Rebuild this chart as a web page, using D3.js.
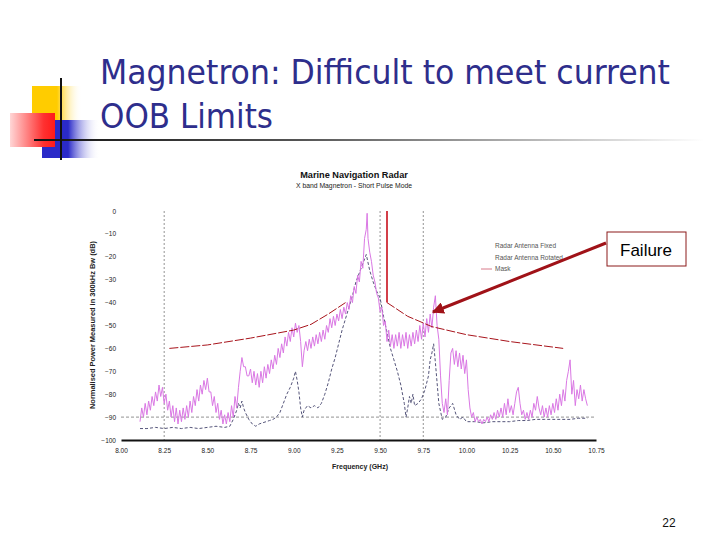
<!DOCTYPE html>
<html><head><meta charset="utf-8">
<script src="https://cdn.jsdelivr.net/npm/d3@7"></script>
<style>html,body{margin:0;padding:0;background:#fff;}svg{display:block;}</style>
</head><body>
<script>
const slideTitle = ["Magnetron: Difficult to meet current", "OOB Limits"];
const chartTitle = "Marine Navigation Radar";
const chartSubtitle = "X band Magnetron - Short Pulse Mode";
const xLabel = "Frequency (GHz)";
const yLabel = "Normalised Power Measured in 300kHz Bw (dB)";
const xTicks = [8.00, 8.25, 8.50, 8.75, 9.00, 9.25, 9.50, 9.75, 10.00, 10.25, 10.50, 10.75];
const yTicks = [0, -10, -20, -30, -40, -50, -60, -70, -80, -90, -100];
const refFreqs = [8.25, 9.50, 9.75];
const refLevel = -90;
const legendNames = ["Radar Antenna Fixed", "Radar Antenna Rotated", "Mask"];

const maskLeft = [[8.28,-60],[8.50,-58.5],[8.75,-55.5],[9.00,-52],[9.10,-49.5],[9.20,-45],[9.30,-40]];
const maskRight = [[9.54,0],[9.54,-40],[9.66,-46],[9.80,-50.5],[10.00,-54],[10.25,-57],[10.56,-60]];

const rotated = [[8.11,-92],[8.12,-86],[8.13,-90],[8.14,-84],[8.15,-89],[8.16,-83],[8.17,-87],[8.18,-81],[8.19,-85],[8.20,-79],
[8.21,-83],[8.22,-76],[8.23,-81],[8.24,-77],[8.25,-84],[8.26,-80],[8.27,-87],[8.28,-83],[8.29,-90],[8.30,-85],
[8.31,-92],[8.32,-86],[8.33,-93],[8.34,-87],[8.35,-92],[8.36,-86],[8.37,-91],[8.38,-85],[8.39,-90],[8.40,-83],
[8.41,-88],[8.42,-81],[8.43,-85],[8.44,-78],[8.45,-83],[8.46,-76],[8.47,-80],[8.48,-74],[8.49,-78],[8.50,-73],
[8.51,-79],[8.52,-79],[8.53,-85],[8.54,-81],[8.55,-88],[8.56,-84],[8.57,-91],[8.58,-87],[8.59,-93],[8.60,-89],
[8.61,-93],[8.62,-88],[8.63,-92],[8.64,-85],[8.65,-90],[8.66,-81],[8.67,-86],[8.68,-77],[8.69,-70],[8.70,-64],
[8.71,-68],[8.72,-68],[8.73,-72],[8.74,-72],[8.75,-69],[8.76,-75],[8.77,-70],[8.78,-76],[8.79,-71],[8.80,-77],
[8.81,-70],[8.82,-75],[8.83,-68],[8.84,-73],[8.85,-67],[8.86,-71],[8.87,-65],[8.88,-69],[8.89,-63],[8.90,-67],
[8.91,-60],[8.92,-64],[8.93,-58],[8.94,-62],[8.95,-55],[8.96,-59],[8.97,-53],[8.98,-57],[8.99,-51],[9.00,-55],
[9.01,-49],[9.02,-53],[9.03,-50],[9.04,-57],[9.05,-68],[9.06,-61],[9.07,-57],[9.08,-61],[9.09,-56],[9.10,-60],
[9.11,-55],[9.12,-59],[9.13,-54],[9.14,-58],[9.15,-53],[9.16,-57],[9.17,-52],[9.18,-56],[9.19,-50],[9.20,-53],
[9.21,-47],[9.22,-51],[9.23,-46],[9.24,-50],[9.25,-45],[9.26,-48],[9.27,-43],[9.28,-47],[9.29,-42],[9.30,-45],
[9.31,-40],[9.32,-43],[9.33,-37],[9.34,-40],[9.35,-33],[9.36,-36],[9.37,-28],[9.38,-31],[9.39,-22],[9.40,-25],
[9.41,-12],[9.42,-8],[9.425,-1],[9.43,-12],[9.44,-18],[9.45,-22],[9.46,-28],[9.47,-31],[9.48,-36],[9.49,-38],
[9.50,-44],[9.51,-42],[9.52,-50],[9.53,-48],[9.54,-57],[9.55,-52],[9.56,-59],[9.57,-54],[9.58,-60],[9.59,-54],
[9.60,-59],[9.61,-53],[9.62,-60],[9.63,-54],[9.64,-59],[9.65,-53],[9.66,-60],[9.67,-54],[9.68,-59],[9.69,-53],
[9.70,-58],[9.71,-52],[9.72,-57],[9.73,-50],[9.74,-56],[9.75,-49],[9.76,-55],[9.77,-47],[9.78,-53],[9.79,-45],
[9.80,-51],[9.81,-42],[9.82,-37],[9.83,-50],[9.84,-56],[9.85,-72],[9.86,-84],[9.87,-88],[9.88,-82],[9.89,-89],
[9.90,-74],[9.91,-62],[9.92,-60],[9.93,-67],[9.94,-61],[9.95,-68],[9.96,-62],[9.97,-69],[9.98,-63],[9.99,-71],
[10.00,-65],[10.01,-78],[10.02,-86],[10.03,-90],[10.04,-88],[10.05,-92],[10.06,-90],[10.07,-92],[10.08,-91],[10.09,-93],
[10.10,-91],[10.11,-92],[10.12,-90],[10.13,-92],[10.14,-89],[10.15,-91],[10.16,-88],[10.17,-91],[10.18,-87],[10.19,-90],
[10.20,-86],[10.21,-90],[10.22,-84],[10.23,-89],[10.24,-82],[10.25,-88],[10.26,-85],[10.27,-89],[10.28,-84],[10.29,-79],
[10.30,-77],[10.31,-84],[10.32,-89],[10.33,-87],[10.34,-91],[10.35,-88],[10.36,-91],[10.37,-87],[10.38,-90],[10.39,-84],
[10.40,-87],[10.41,-81],[10.42,-86],[10.43,-89],[10.44,-85],[10.45,-90],[10.46,-86],[10.47,-90],[10.48,-85],[10.49,-89],
[10.50,-84],[10.51,-88],[10.52,-82],[10.53,-87],[10.54,-80],[10.55,-85],[10.56,-78],[10.57,-83],[10.58,-74],[10.59,-70],
[10.60,-65],[10.61,-80],[10.62,-74],[10.63,-85],[10.64,-78],[10.65,-82],[10.66,-76],[10.67,-83],[10.68,-78],[10.69,-82],[10.70,-85]];

const fixed = [[8.11,-95],[8.15,-95],[8.20,-94.5],[8.25,-95],[8.30,-94.5],[8.35,-95],[8.40,-94.5],[8.45,-95],[8.50,-94.5],
[8.55,-94],[8.60,-94.5],[8.63,-94],[8.65,-91],[8.67,-87],[8.68,-84],[8.69,-86],[8.70,-83],[8.71,-86],[8.72,-88],[8.74,-91],
[8.76,-93],[8.78,-94],[8.80,-93],[8.82,-92.5],[8.84,-92],[8.86,-91.5],[8.88,-91],[8.90,-90],[8.92,-88],[8.94,-84],
[8.96,-80],[8.98,-77],[9.00,-73],[9.01,-70],[9.02,-74],[9.03,-79],[9.04,-86],[9.05,-90],[9.06,-87],[9.08,-85],
[9.10,-86],[9.12,-85],[9.14,-86],[9.16,-84],[9.18,-80],[9.20,-75],[9.22,-69],[9.24,-64],[9.26,-58],[9.28,-52],
[9.30,-47],[9.32,-42],[9.34,-37],[9.36,-31],[9.38,-27],[9.40,-23],[9.42,-19],[9.44,-26],[9.46,-31],[9.48,-35],
[9.50,-38],[9.52,-46],[9.54,-53],[9.56,-60],[9.58,-65],[9.60,-70],[9.62,-76],[9.64,-84],[9.65,-90],[9.66,-86],
[9.67,-81],[9.68,-84],[9.69,-80],[9.70,-85],[9.72,-84],[9.74,-82],[9.76,-78],[9.78,-72],[9.79,-65],[9.80,-62],
[9.81,-58],[9.82,-66],[9.83,-75],[9.84,-84],[9.86,-91],[9.88,-90],[9.90,-86],[9.92,-84],[9.94,-89],[9.96,-91],
[9.98,-90],[10.00,-92],[10.05,-92],[10.10,-92.5],[10.15,-92],[10.20,-92],[10.25,-92],[10.30,-91.5],[10.35,-91.5],
[10.40,-91],[10.45,-91],[10.50,-91],[10.55,-91],[10.60,-91],[10.65,-90.5],[10.70,-90.5]];

const W = 720, H = 540;
const svg = d3.select("body").append("svg").attr("width", W).attr("height", H);
const defs = svg.append("defs");
function grad(id, stops) {
  const g = defs.append("linearGradient").attr("id", id).attr("x1", "0%").attr("x2", "100%").attr("y1", "0%").attr("y2", "0%");
  stops.forEach(s => g.append("stop").attr("offset", s[0]).attr("stop-color", s[1]).attr("stop-opacity", s[2] == null ? 1 : s[2]));
}
grad("gYellow", [[0, "#ffcc00"], [0.5, "#ffcc00"], [1, "#ffffff", 0]]);
grad("gRed", [[0, "#ffd6d6"], [0.75, "#ff3030"], [1, "#ff1a1a"]]);
grad("gBlue", [[0, "#2a2ac8"], [0.45, "#2a2ac8"], [1, "#ffffff", 0]]);
grad("gLine", [[0, "#111111"], [0.4, "#555555"], [1, "#ffffff"]]);

// decoration
svg.append("rect").attr("x", 32).attr("y", 86).attr("width", 50).attr("height", 34).attr("fill", "url(#gYellow)");
svg.append("rect").attr("x", 42).attr("y", 120).attr("width", 58).attr("height", 38).attr("fill", "url(#gBlue)");
svg.append("rect").attr("x", 10).attr("y", 113).attr("width", 45).attr("height", 34).attr("fill", "url(#gRed)");
svg.append("rect").attr("x", 34).attr("y", 139).attr("width", 670).attr("height", 2).attr("fill", "url(#gLine)");
svg.append("line").attr("x1", 61).attr("x2", 61).attr("y1", 78).attr("y2", 160).attr("stroke", "#111").attr("stroke-width", 2);

// slide title
const tfont = "'DejaVu Sans Condensed','DejaVu Sans',sans-serif";
svg.append("text").attr("x", 100).attr("y", 84).attr("font-family", tfont).attr("font-size", 34)
  .attr("fill", "#2e2e8c").attr("textLength", 570).attr("lengthAdjust", "spacingAndGlyphs").text(slideTitle[0]);
svg.append("text").attr("x", 100).attr("y", 128).attr("font-family", tfont).attr("font-size", 34)
  .attr("fill", "#2e2e8c").attr("textLength", 173).attr("lengthAdjust", "spacingAndGlyphs").text(slideTitle[1]);

// chart
const x = d3.scaleLinear().domain([8.0, 10.75]).range([121, 596]);
const y = d3.scaleLinear().domain([-100, 0]).range([440, 211]);
const sfont = "'Liberation Sans',Arial,sans-serif";

svg.append("text").attr("x", 354).attr("y", 178).attr("text-anchor", "middle").attr("font-family", sfont)
  .attr("font-size", 9.2).attr("font-weight", "bold").attr("fill", "#111").text(chartTitle);
svg.append("text").attr("x", 354).attr("y", 188).attr("text-anchor", "middle").attr("font-family", sfont)
  .attr("font-size", 6.8).attr("fill", "#222").text(chartSubtitle);

// reference lines
svg.append("g").selectAll("line").data(refFreqs).join("line")
  .attr("x1", d => x(d)).attr("x2", d => x(d)).attr("y1", y(0)).attr("y2", y(-100))
  .attr("stroke", "#777").attr("stroke-width", 0.8).attr("stroke-dasharray", "2,2");
svg.append("line").attr("x1", x(8.0)).attr("x2", x(10.75)).attr("y1", y(refLevel)).attr("y2", y(refLevel))
  .attr("stroke", "#777").attr("stroke-width", 0.8).attr("stroke-dasharray", "3,2");

// axes
const xAxis = svg.append("g").attr("transform", `translate(0,${y(-100)})`)
  .call(d3.axisBottom(x).tickValues(xTicks).tickSize(0).tickPadding(8).tickFormat(d3.format(".2f")));
xAxis.select(".domain").attr("stroke", "#111").attr("stroke-width", 1.8);
xAxis.selectAll("text").attr("font-family", sfont).attr("font-size", 6.5).attr("fill", "#222");
const yAxis = svg.append("g").attr("transform", `translate(${x(8.0)},0)`)
  .call(d3.axisLeft(y).tickValues(yTicks).tickSize(0).tickPadding(5).tickFormat(d3.format("d")));
yAxis.select(".domain").remove();
yAxis.selectAll("text").attr("font-family", sfont).attr("font-size", 6.5).attr("fill", "#222");

svg.append("text").attr("x", 360).attr("y", 469).attr("text-anchor", "middle").attr("font-family", sfont)
  .attr("font-size", 7).attr("font-weight", "bold").attr("fill", "#222").text(xLabel);
svg.append("text").attr("transform", "translate(95,325) rotate(-90)").attr("text-anchor", "middle").attr("font-family", sfont)
  .attr("font-size", 6.8).attr("font-weight", "bold").attr("fill", "#222")
  .attr("textLength", 168).attr("lengthAdjust", "spacingAndGlyphs").text(yLabel);

const line = d3.line().x(d => x(d[0])).y(d => y(d[1]));

// series
svg.append("path").datum(fixed).attr("d", line).attr("fill", "none").attr("stroke", "#55557a")
  .attr("stroke-width", 1).attr("stroke-dasharray", "3,2");
svg.append("path").datum(rotated).attr("d", line).attr("fill", "none").attr("stroke", "#da78e4")
  .attr("stroke-width", 1);

// mask
svg.append("path").datum(maskLeft).attr("d", line).attr("fill", "none").attr("stroke", "#a8141c")
  .attr("stroke-width", 1).attr("stroke-dasharray", "9,2");
svg.append("path").datum(maskRight.slice(0, 2)).attr("d", line).attr("fill", "none").attr("stroke", "#c8101c")
  .attr("stroke-width", 1.6);
svg.append("path").datum(maskRight.slice(1)).attr("d", line).attr("fill", "none").attr("stroke", "#a8141c")
  .attr("stroke-width", 1).attr("stroke-dasharray", "9,2");

// legend
const lg = svg.append("g");
legendNames.forEach((n, i) => {
  lg.append("text").attr("x", 495).attr("y", 248 + i * 11.5).attr("font-family", sfont).attr("font-size", 6.5)
    .attr("fill", "#555").text(n);
});
lg.append("line").attr("x1", 481).attr("x2", 492).attr("y1", 269).attr("y2", 269).attr("stroke", "#d87a8a").attr("stroke-width", 1);

// failure annotation
defs.append("marker").attr("id", "arr").attr("viewBox", "0 0 10 10").attr("refX", 9).attr("refY", 5)
  .attr("markerWidth", 4).attr("markerHeight", 4).attr("orient", "auto")
  .append("path").attr("d", "M0,0 L10,5 L0,10 z").attr("fill", "#a01218");
svg.append("line").attr("x1", 606).attr("y1", 243).attr("x2", 433).attr("y2", 312)
  .attr("stroke", "#a01218").attr("stroke-width", 3).attr("marker-end", "url(#arr)");
svg.append("rect").attr("x", 607).attr("y", 232).attr("width", 79).attr("height", 34).attr("fill", "#fff")
  .attr("stroke", "#8b1a1a").attr("stroke-width", 1);
svg.append("text").attr("x", 646).attr("y", 256).attr("text-anchor", "middle").attr("font-family", sfont)
  .attr("font-size", 17).attr("fill", "#000").text("Failure");

svg.append("text").attr("x", 669).attr("y", 527).attr("text-anchor", "middle").attr("font-family", sfont)
  .attr("font-size", 12).attr("fill", "#111").text("22");
</script>
</body></html>
